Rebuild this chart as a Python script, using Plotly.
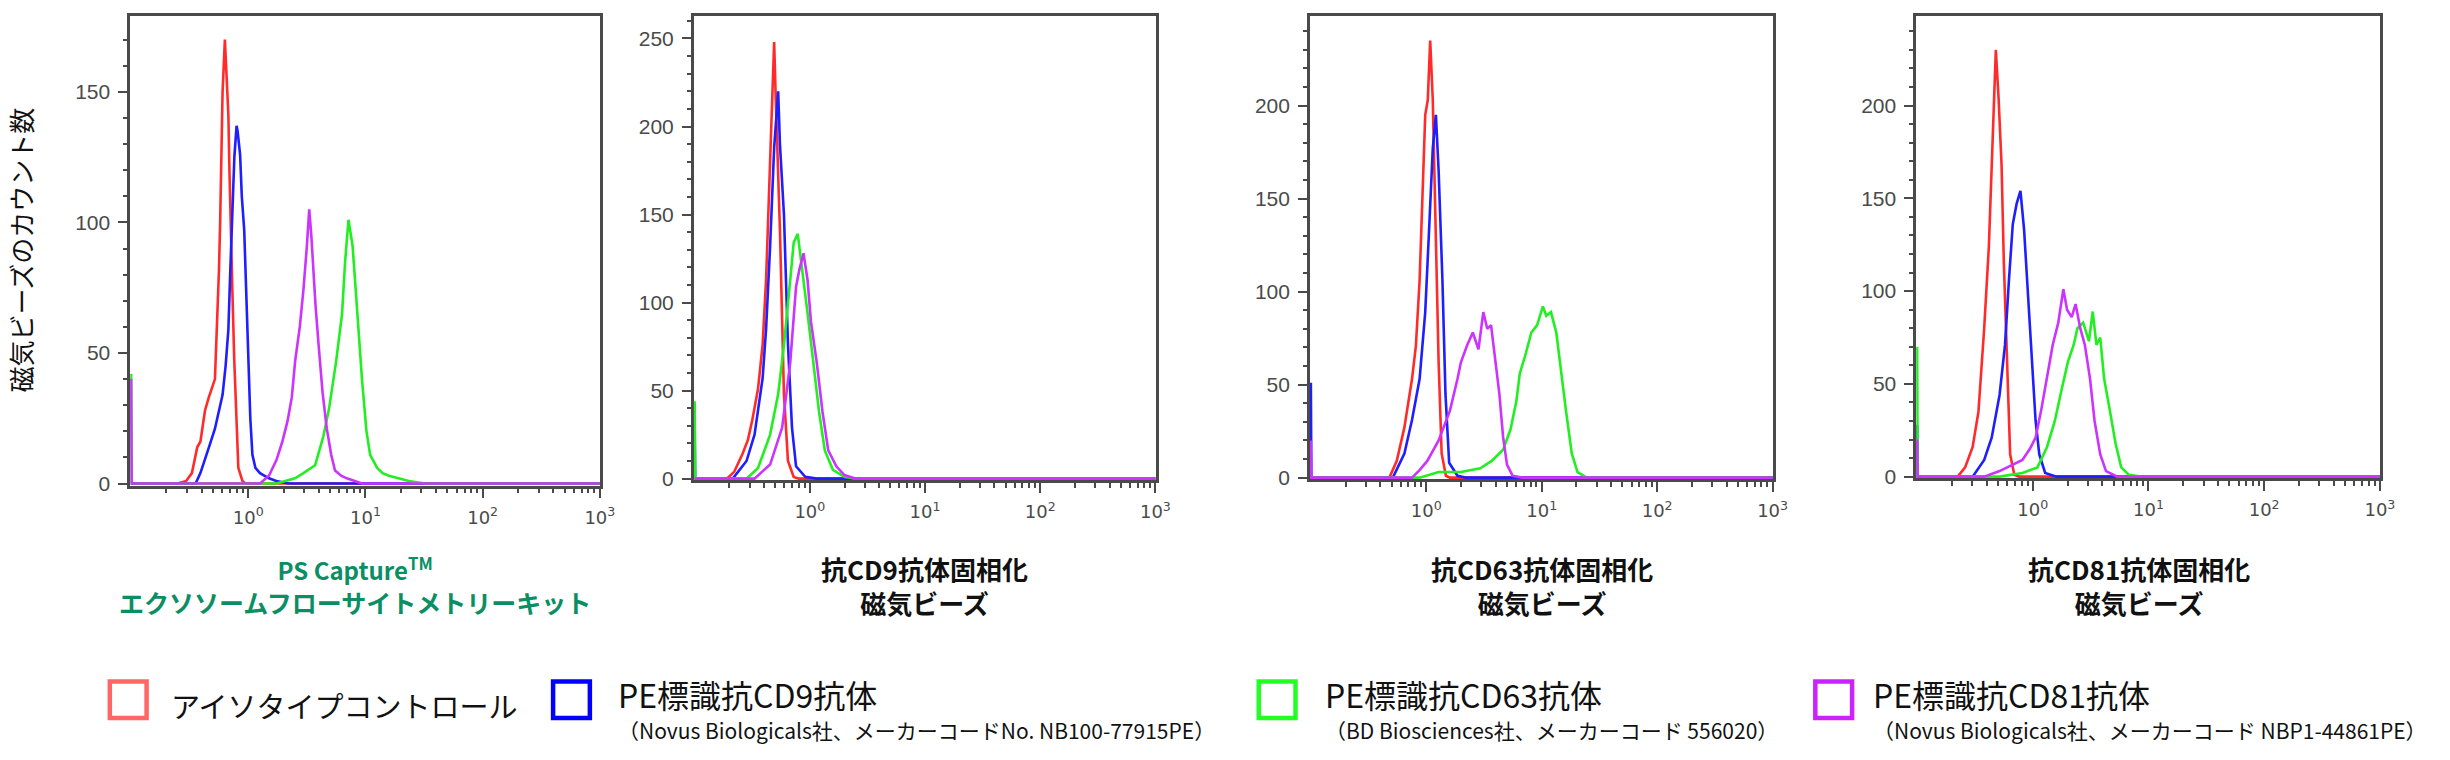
import plotly.graph_objects as go

# ---------------- data (fluorescence intensity, counts) ----------------
p1_red_x = [0.1, 0.25, 0.295, 0.33, 0.367, 0.39, 0.427, 0.46, 0.519, 0.54, 0.562, 0.575, 0.589, 0.603, 0.631, 0.65, 0.676, 0.69, 0.708, 0.73, 0.759, 0.79, 0.822, 0.891, 0.95, 1000]
p1_red_y = [0, 0, 1, 4, 14, 16, 28, 33, 40, 60, 82, 100, 122, 150, 170, 155, 141, 120, 103, 75, 47, 25, 6, 1, 0, 0]
p1_blue_x = [0.1, 0.3, 0.355, 0.39, 0.427, 0.47, 0.519, 0.56, 0.603, 0.64, 0.676, 0.70, 0.733, 0.76, 0.794, 0.81, 0.851, 0.88, 0.923, 0.96, 1.0, 1.04, 1.084, 1.15, 1.259, 1.5, 1.738, 2.2, 1000]
p1_blue_y = [0, 0, 0, 4, 9, 15, 21, 28, 34, 45, 59, 80, 103, 125, 137, 135, 126, 110, 97, 72, 47, 25, 11, 6, 4, 2, 1, 0, 0]
p1_green_x = [0.1, 0.101, 1.738, 2.5, 2.951, 3.4, 3.715, 4.0, 4.365, 4.9, 5.623, 6.31, 6.7, 7.161, 7.762, 8.318, 8.8, 9.333, 10.2, 10.96, 12.59, 14.0, 15.85, 19.0, 23.44, 32.36, 1000]
p1_green_y = [42, 0, 0, 2, 4, 6, 7, 12, 18, 29, 47, 65, 85, 101, 91, 72, 55, 40, 20, 11, 6, 4, 3, 2, 1, 0, 0]
p1_mag_x = [0.1, 0.101, 1.1, 1.259, 1.5, 1.738, 1.95, 2.163, 2.35, 2.512, 2.75, 2.951, 3.15, 3.311, 3.45, 3.548, 3.75, 3.981, 4.3, 4.677, 5.1, 5.495, 6.2, 6.918, 8.0, 9.333, 1000]
p1_mag_y = [40, 0, 0, 0, 3, 9, 16, 24, 33, 47, 60, 74, 90, 105, 95, 84, 68, 53, 35, 21, 11, 5, 3, 2, 1, 0, 0]

p2_red_x = [0.1, 0.17, 0.191, 0.221, 0.26, 0.29, 0.316, 0.355, 0.389, 0.417, 0.452, 0.47, 0.49, 0.506, 0.55, 0.596, 0.646, 0.724, 0.8, 1000]
p2_red_y = [0, 0, 0, 4, 14, 22, 33, 51, 76, 113, 178, 215, 248, 216, 141, 48, 10, 1, 0, 0]
p2_blue_x = [0.1, 0.101, 0.2, 0.214, 0.282, 0.331, 0.389, 0.417, 0.452, 0.49, 0.531, 0.55, 0.596, 0.646, 0.70, 0.759, 0.912, 1.148, 1000]
p2_blue_y = [31, 0, 0, 0, 10, 25, 57, 85, 132, 188, 220, 190, 150, 76, 29, 7, 1, 0, 0]
p2_green_x = [0.1, 0.101, 0.25, 0.282, 0.355, 0.452, 0.531, 0.596, 0.676, 0.724, 0.785, 0.841, 0.955, 1.072, 1.202, 1.349, 1.585, 1.995, 2.5, 1000]
p2_green_y = [44, 0, 0, 0, 6, 25, 48, 76, 113, 134, 139, 122, 94, 66, 38, 16, 5, 1, 0, 0]
p2_mag_x = [0.1, 0.3, 0.331, 0.452, 0.575, 0.676, 0.759, 0.813, 0.881, 0.955, 1.023, 1.148, 1.288, 1.445, 1.698, 1.995, 2.512, 1000]
p2_mag_y = [0, 0, 0, 8, 29, 66, 109, 119, 128, 113, 89, 66, 38, 16, 7, 2, 0, 0]

p3_red_x = [0.1, 0.4, 0.479, 0.555, 0.646, 0.752, 0.813, 0.875, 0.944, 0.979, 1.03, 1.081, 1.138, 1.202, 1.279, 1.358, 1.479, 1.6, 1000]
p3_red_y = [0, 0, 0, 9, 27, 53, 71, 106, 168, 195, 203, 235, 203, 142, 62, 13, 1, 0, 0]
p3_blue_x = [0.1, 0.101, 0.45, 0.513, 0.646, 0.752, 0.875, 0.979, 1.057, 1.138, 1.211, 1.279, 1.38, 1.466, 1.578, 1.862, 2.2, 1000]
p3_blue_y = [51, 0, 0, 0, 13, 31, 53, 89, 133, 177, 195, 165, 106, 45, 8, 1, 0, 0]
p3_green_x = [0.1, 0.875, 1.279, 1.995, 2.938, 3.681, 4.624, 5.37, 6.026, 6.457, 7.295, 8.128, 9.12, 10.23, 10.96, 12.02, 13.37, 14.45, 16.22, 18.2, 20.42, 24.55, 1000]
p3_green_y = [0, 0, 3, 3, 5, 9, 15, 26, 41, 56, 67, 78, 82, 92, 87, 89, 78, 60, 36, 13, 3, 0, 0]
p3_mag_x = [0.1, 0.101, 0.6, 0.752, 0.875, 1.02, 1.279, 1.603, 1.862, 1.995, 2.254, 2.529, 2.831, 3.119, 3.373, 3.639, 3.981, 4.295, 4.624, 5.0, 5.598, 6.761, 1000]
p3_mag_y = [20, 0, 0, 0, 4, 9, 20, 36, 53, 62, 71, 78, 69, 89, 80, 82, 62, 45, 22, 7, 1, 0, 0]

p4_red_x = [0.1, 0.2, 0.224, 0.26, 0.302, 0.339, 0.38, 0.417, 0.449, 0.479, 0.506, 0.537, 0.562, 0.603, 0.637, 0.692, 0.76, 1000]
p4_red_y = [0, 0, 0, 5, 16, 35, 80, 124, 186, 230, 204, 168, 115, 62, 12, 1, 0, 0]
p4_blue_x = [0.1, 0.101, 0.28, 0.302, 0.38, 0.441, 0.516, 0.575, 0.622, 0.671, 0.724, 0.782, 0.841, 0.912, 0.979, 1.057, 1.138, 1.279, 1.603, 1000]
p4_blue_y = [28, 0, 0, 0, 9, 21, 44, 71, 106, 136, 147, 154, 133, 97, 62, 30, 12, 2, 0, 0]
p4_green_x = [0.1, 0.101, 0.45, 0.516, 0.813, 1.096, 1.327, 1.549, 1.791, 2.014, 2.254, 2.432, 2.723, 3.055, 3.296, 3.548, 3.828, 4.13, 4.624, 5.188, 5.808, 6.761, 8.511, 1000]
p4_green_y = [70, 0, 0, 0, 2, 5, 16, 30, 48, 62, 71, 80, 83, 73, 89, 71, 75, 53, 36, 18, 5, 1, 0, 0]
p4_mag_x = [0.1, 0.101, 0.35, 0.38, 0.516, 0.646, 0.813, 0.944, 1.057, 1.183, 1.327, 1.486, 1.66, 1.837, 1.977, 2.168, 2.344, 2.57, 2.818, 3.119, 3.42, 3.828, 4.295, 5.37, 1000]
p4_mag_y = [20, 0, 0, 0, 3, 6, 9, 15, 21, 36, 53, 71, 83, 101, 90, 86, 93, 80, 71, 53, 30, 12, 3, 0, 0]

panel_title_1 = ["PS Capture<sup>TM</sup>", "抗CD9抗体固相化", "抗CD63抗体固相化", "抗CD81抗体固相化"]
panel_title_2 = ["エクソソームフローサイトメトリーキット", "磁気ビーズ", "磁気ビーズ", "磁気ビーズ"]
y_title = "磁気ビーズのカウント数"
x_tick_vals = [1, 10, 100, 1000]
x_tick_text = ["10<sup>0</sup>", "10<sup>1</sup>", "10<sup>2</sup>", "10<sup>3</sup>"]
x_minor_vals = [m * d for d in (0.1, 1, 10, 100) for m in range(2, 10)]
legend_main = ["アイソタイプコントロール", "PE標識抗CD9抗体", "PE標識抗CD63抗体", "PE標識抗CD81抗体"]
legend_sub = ["", "（Novus Biologicals社、メーカーコードNo. NB100-77915PE）",
              "（BD Biosciences社、メーカーコード 556020）",
              "（Novus Biologicals社、メーカーコード NBP1-44861PE）"]

# ---------------- styling / layout ----------------
W, H = 2450, 760
COL = {"red": "#ff2b2b", "blue": "#1e1eff", "green": "#22ee22", "mag": "#cc33ff"}
BOX_COL = ["#ff6666", "#0000ff", "#22ff22", "#cc22ff"]

panels = [
    dict(series=[(p1_red_x, p1_red_y, "red"), (p1_blue_x, p1_blue_y, "blue"),
                 (p1_green_x, p1_green_y, "green"), (p1_mag_x, p1_mag_y, "mag")],
         left=131, right=604, base=490, ppu=2.646, ymajor=[0, 50, 100, 150]),
    dict(series=[(p2_red_x, p2_red_y, "red"), (p2_blue_x, p2_blue_y, "blue"),
                 (p2_green_x, p2_green_y, "green"), (p2_mag_x, p2_mag_y, "mag")],
         left=698, right=1163, base=485, ppu=1.784, ymajor=[0, 50, 100, 150, 200, 250]),
    dict(series=[(p3_red_x, p3_red_y, "red"), (p3_blue_x, p3_blue_y, "blue"),
                 (p3_green_x, p3_green_y, "green"), (p3_mag_x, p3_mag_y, "mag")],
         left=1318, right=1784, base=484, ppu=1.885, ymajor=[0, 50, 100, 150, 200]),
    dict(series=[(p4_red_x, p4_red_y, "red"), (p4_blue_x, p4_blue_y, "blue"),
                 (p4_green_x, p4_green_y, "green"), (p4_mag_x, p4_mag_y, "mag")],
         left=1928, right=2395, base=483, ppu=1.88, ymajor=[0, 50, 100, 150, 200]),
]
title_cx = [357, 930, 1551, 2152]

TOP = 16
YMIN = -0.8
fig = go.Figure()
layout = dict(width=W, height=H, margin=dict(l=0, r=0, t=0, b=0),
              paper_bgcolor="white", plot_bgcolor="white", showlegend=False)

tick_font = dict(family="Liberation Sans Narrow, Liberation Sans, sans-serif", size=21, color="#4a4a4a")
xtick_font = dict(family="DejaVu Sans, sans-serif", size=18, color="#4a4a4a")

for i, p in enumerate(panels):
    n = "" if i == 0 else str(i + 1)
    for xs, ys, c in p["series"]:
        fig.add_trace(go.Scatter(x=xs, y=ys, mode="lines", xaxis="x" + n, yaxis="y" + n,
                                 line=dict(color=COL[c], width=2.6), hoverinfo="skip"))
    ymax = (p["base"] - TOP) / p["ppu"]
    bottom_px = p["base"] - YMIN * p["ppu"]
    layout["xaxis" + n] = dict(
        type="log", range=[-1.008, 3.004], domain=[p["left"] / W, p["right"] / W],
        anchor="y" + n, showline=True, mirror=True, linecolor="#4a4a4a", linewidth=2.5,
        showgrid=False, zeroline=False, ticks="outside", ticklen=10, tickwidth=2,
        tickcolor="#4a4a4a", tickvals=x_tick_vals, ticktext=x_tick_text,
        tickfont=xtick_font, ticklabelstandoff=4, layer="below traces",
        minor=dict(tickvals=x_minor_vals, ticks="outside", ticklen=5, tickwidth=2,
                   tickcolor="#4a4a4a", showgrid=False))
    layout["yaxis" + n] = dict(
        range=[YMIN, ymax], domain=[1 - bottom_px / H, 1 - TOP / H], anchor="x" + n,
        showline=True, mirror=True, linecolor="#4a4a4a", linewidth=2.5,
        showgrid=False, zeroline=False, ticks="outside", ticklen=9, tickwidth=2,
        tickcolor="#4a4a4a", tickvals=p["ymajor"], tickfont=tick_font,
        ticklabelstandoff=4, layer="below traces",
        minor=dict(dtick=10, tick0=0, ticks="outside", ticklen=4, tickwidth=1.5,
                   tickcolor="#4a4a4a", showgrid=False))

annotations = []
shapes = []
# panel titles (two lines, one text block)
for i in range(4):
    if i == 0:
        txt = ('<span style="font-size:24px"><b>%s</b></span><br>'
               '<span style="font-size:25px"><b>%s</b></span>' % (panel_title_1[i], panel_title_2[i]))
        fsize = 25
    else:
        txt = "<b>%s</b><br><b>%s</b>" % (panel_title_1[i], panel_title_2[i])
        fsize = 26
    annotations.append(dict(
        text=txt, x=title_cx[i] / W, y=1 - 593 / H, xref="paper", yref="paper",
        xanchor="center", yanchor="middle", showarrow=False, align="center",
        font=dict(family="Noto Sans CJK JP", size=fsize,
                  color="#0a8f64" if i == 0 else "#111111")))
# y axis title
annotations.append(dict(
    text=y_title, x=21 / W, y=1 - 253 / H, xref="paper", yref="paper",
    xanchor="center", yanchor="middle", showarrow=False, textangle=-90,
    font=dict(family="Noto Sans CJK JP", size=26, color="#111111")))

# legend
box_cx = [129, 575, 1285, 1845]
text_x = [170, 620, 1331, 1883]
BOX_CY = 709
HALF = 18.5
for i in range(4):
    shapes.append(dict(type="rect", xref="paper", yref="paper",
                       x0=(box_cx[i] - HALF) / W, x1=(box_cx[i] + HALF) / W,
                       y0=1 - (BOX_CY + HALF) / H, y1=1 - (BOX_CY - HALF) / H,
                       line=dict(color=BOX_COL[i], width=4.5), fillcolor="rgba(0,0,0,0)"))
    if legend_sub[i]:
        txt = ('<span style="font-size:32px">%s</span><br>'
               '<span style="font-size:21px">%s</span>' % (legend_main[i], legend_sub[i]))
        annotations.append(dict(text=txt, x=text_x[i] / W, y=1 - 717 / H,
                                xref="paper", yref="paper", xanchor="left", yanchor="middle",
                                showarrow=False, align="left",
                                font=dict(family="Noto Sans CJK JP", size=24, color="#111111")))
    else:
        annotations.append(dict(text=legend_main[i], x=text_x[i] / W, y=1 - 714 / H,
                                xref="paper", yref="paper", xanchor="left", yanchor="middle",
                                showarrow=False,
                                font=dict(family="Noto Sans CJK JP", size=29, color="#111111")))

layout["annotations"] = annotations
layout["shapes"] = shapes
fig.update_layout(**layout)
fig.write_html("out.html")
